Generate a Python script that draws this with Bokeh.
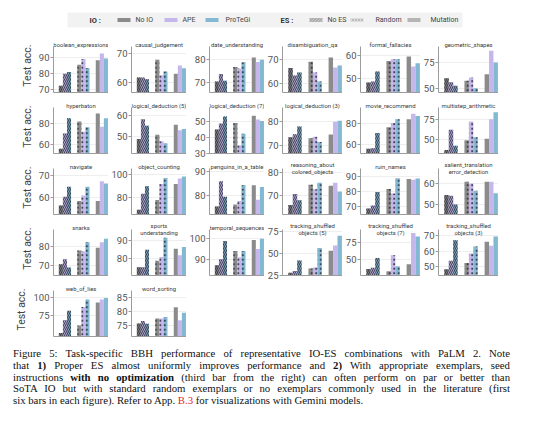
from bokeh.plotting import figure
from bokeh.models import (Range1d, FixedTicker, Label, BoxAnnotation, ColumnDataSource, Div, Spacer)
from bokeh.layouts import gridplot, column, row
from bokeh.embed import file_html
from bokeh.resources import INLINE

# ---------------- data ----------------
TASKS = [
    "boolean_expressions", "causal_judgement", "date_understanding", "disambiguation_qa",
    "formal_fallacies", "geometric_shapes",
    "hyperbaton", "logical_deduction (5)", "logical_deduction (7)", "logical_deduction (3)",
    "movie_recommend", "multistep_arithmetic",
    "navigate", "object_counting", "penguins_in_a_table", "reasoning_about\ncolored_objects",
    "ruin_names", "salient_translation\nerror_detection",
    "snarks", "sports\nunderstanding", "temporal_sequences", "tracking_shuffled\nobjects (5)",
    "tracking_shuffled\nobjects (7)", "tracking_shuffled\nobjects (3)",
    "web_of_lies", "word_sorting",
]
Y_TICKS = [
    [70, 80, 90], [60, 70], [70, 80], [60, 70], [50, 60], [50, 75],
    [60, 80], [50, 60], [30, 40, 50], [70, 80], [60, 80], [50, 75],
    [60, 70], [80, 100], [80, 90], [70, 80], [70, 80, 90], [50, 60],
    [70, 80], [80, 90], [90, 100], [25, 50, 75], [50, 75], [50, 60, 70],
    [75, 100], [75, 80, 85],
]
Y_LIMITS = [
    (68.3, 96.9), (56.4, 72.3), (65.6, 85.9), (56.1, 75.3), (44.1, 63.9), (46.5, 90.2),
    (51.7, 95.0), (42.2, 63.5), (30.0, 58.6), (66.6, 85.9), (51.7, 95.0), (31.6, 91.0),
    (52.4, 73.3), (64.4, 105.8), (72.1, 91.4), (61.8, 81.5), (64.5, 95.3), (45.3, 67.0),
    (64.4, 89.5), (71.0, 96.0), (82.0, 104.6), (25.0, 77.0), (26.8, 93.0), (44.5, 73.9),
    (47.3, 109.0), (71.0, 87.5),
]
# each entry: [No IO, APE, ProTeGi]
NO_ES = [
    [72.5, 80.0, 81.0], [61.6, 61.6, 61.0], [70.4, 73.8, 70.8], [66.3, 63.2, 64.4],
    [48.4, 48.8, 53.1], [60.1, 56.3, 52.9],
    [56.1, 70.5, 84.8], [48.9, 58.1, 55.1], [44.9, 48.7, 53.0], [73.4, 74.7, 77.9],
    [56.1, 56.6, 70.9], [36.0, 62.3, 41.6],
    [56.5, 60.5, 65.0], [68.6, 83.0, 89.9], [75.5, 86.0, 79.5], [65.9, 70.6, 67.9],
    [68.6, 70.6, 79.6], [54.5, 54.1, 50.0],
    [70.5, 73.2, 68.8], [75.5, 75.5, 85.0], [87.0, 90.0, 99.0], [28.0, 30.0, 42.0],
    [36.0, 38.0, 52.0], [48.5, 54.0, 67.0],
    [52.0, 69.0, 82.0], [75.7, 76.6, 75.6],
]
RANDOM = [
    [85.6, 89.1, 83.5], [67.7, 62.4, 63.7], [76.8, 76.2, 78.9], [68.9, 64.4, 60.7],
    [57.7, 58.4, 58.4], [57.6, 60.8, 50.6],
    [81.8, 72.1, 76.5], [50.9, 47.9, 47.0], [49.0, 35.1, 42.3], [73.0, 73.6, 71.4],
    [76.4, 80.4, 84.0], [48.8, 72.9, 52.5],
    [58.5, 61.0, 65.0], [77.4, 91.8, 97.3], [76.3, 77.8, 84.4], [74.5, 72.6, 75.4],
    [81.6, 78.5, 88.8], [60.7, 59.9, 56.5],
    [78.0, 77.5, 82.5], [79.0, 81.0, 91.5], [94.0, 91.0, 94.0], [33.0, 34.0, 56.0],
    [33.0, 56.0, 40.0], [52.5, 58.5, 63.0],
    [62.0, 87.0, 97.0], [77.5, 77.5, 78.0],
]
MUTATION = [
    [88.3, 92.5, 89.4], [62.9, 65.7, 64.8], [81.1, 79.1, 80.0], [70.7, 66.5, 67.4],
    [59.6, 55.3, 56.7], [63.9, 86.2, 75.0],
    [89.3, 76.8, 84.8], [55.5, 53.0, 53.6], [53.4, 51.1, 50.2], [74.6, 79.9, 80.3],
    [84.0, 89.1, 87.0], [50.7, 75.9, 84.9],
    [58.5, 67.5, 66.5], [91.8, 96.8, 98.7], [84.4, 78.3, 83.6], [74.1, 75.4, 71.6],
    [88.2, 87.8, 88.6], [60.7, 60.7, 55.3],
    [79.5, 82.5, 84.5], [85.5, 82.0, 86.5], [99.5, 95.0, 100.0], [53.0, 59.0, 70.0],
    [43.0, 88.0, 83.0], [66.0, 63.5, 69.5],
    [93.0, 97.0, 99.0], [81.5, 76.8, 79.5],
]
IO_LABELS = ["No IO", "APE", "ProTeGi"]
ES_LABELS = ["No ES", "Random", "Mutation"]
CAPTION_LINES = [
    "Figure 5: Task-specific BBH performance of representative IO-ES combinations with PaLM 2. Note",
    "that <b>1)</b> Proper ES almost uniformly improves performance and <b>2)</b> With appropriate exemplars, seed",
    "instructions <b>with no optimization</b> (third bar from the right) can often perform on par or better than",
    "SoTA IO but with standard random exemplars or no exemplars commonly used in the literature (first",
    'six bars in each figure). Refer to App. <span style="color:#e3262a">B.3</span> for visualizations with Gemini models.',
]

# ---------------- style ----------------
IO_COLORS = ["#8b8b8b", "#c5b7ec", "#82b8d1"]
ES_HATCH = ["left_diagonal_line", "dot", " "]
ES_HATCH_SCALE = [4.0, 4.5, 1.0]
ES_HATCH_WEIGHT = [1.1, 1.6, 1.0]
HATCH_COLOR = "#2e2e3c"
AXIS_COLOR = "#9c9c9c"
FONT = "Roboto"
BAR_W = 0.22
PANEL_H = 61
TITLE_PAD = 8      # px of headroom above the data area for panel titles
DATA_H = 46        # px of the data area
BOTTOM_B = 7
FRAME_W = 63
LEFT_B = 15
FIRST_LEFT_B = 33
GRID_INDENT = 12


def make_panel(k, col):
    lo, hi = Y_LIMITS[k]
    top = hi + (hi - lo) * TITLE_PAD / DATA_H
    first = col == 0
    lb = FIRST_LEFT_B if first else LEFT_B
    p = figure(width=lb + FRAME_W, height=PANEL_H,
               x_range=Range1d(-0.62, 2.36), y_range=Range1d(lo, top),
               output_backend="svg", toolbar_location=None,
               min_border_left=lb, min_border_right=0,
               min_border_top=0, min_border_bottom=BOTTOM_B)
    p.outline_line_color = None
    p.background_fill_color = "white"
    p.border_fill_color = "white"

    for g, vals in enumerate((NO_ES[k], RANDOM[k], MUTATION[k])):
        src = ColumnDataSource(dict(
            x=[g + (i - 1) * BAR_W for i in range(3)],
            top=list(vals),
            color=IO_COLORS,
        ))
        p.vbar(x="x", top="top", bottom=lo, width=BAR_W, source=src,
               fill_color="color", line_color=None,
               hatch_pattern=ES_HATCH[g], hatch_color=HATCH_COLOR, hatch_alpha=0.85,
               hatch_scale=ES_HATCH_SCALE[g], hatch_weight=ES_HATCH_WEIGHT[g])

    # x axis: spine only
    p.xaxis.ticker = FixedTicker(ticks=[])
    p.xaxis.major_tick_line_color = None
    p.xaxis.minor_tick_line_color = None
    p.xaxis.major_label_text_font_size = "0px"
    p.xaxis.major_label_standoff = 0
    p.xaxis.axis_line_color = AXIS_COLOR
    p.xgrid.visible = False

    # y axis
    p.yaxis.bounds = (lo, hi)
    p.yaxis.ticker = FixedTicker(ticks=Y_TICKS[k])
    p.yaxis.minor_tick_line_color = None
    p.yaxis.major_tick_out = 3
    p.yaxis.major_tick_in = 0
    p.yaxis.major_tick_line_color = AXIS_COLOR
    p.yaxis.axis_line_color = AXIS_COLOR
    p.yaxis.major_label_standoff = 1
    p.yaxis.major_label_text_font = FONT
    p.yaxis.major_label_text_font_size = "9.5px"
    p.yaxis.major_label_text_color = "#555555"
    p.ygrid.ticker = FixedTicker(ticks=Y_TICKS[k])
    p.ygrid.grid_line_color = "#eeeeee"
    if first:
        p.yaxis.axis_label = "Test acc."
        p.yaxis.axis_label_text_font = FONT
        p.yaxis.axis_label_text_font_size = "10.5px"
        p.yaxis.axis_label_text_font_style = "normal"
        p.yaxis.axis_label_text_color = "#444444"
        p.yaxis.axis_label_standoff = 2

    lines = TASKS[k].split("\n")
    offs = [2] if len(lines) == 1 else [4, -3.5]
    for line, off in zip(lines, offs):
        p.add_layout(Label(x=0.87, y=hi, text=line, text_align="center",
                           text_baseline="middle", y_offset=off,
                           text_font=FONT, text_font_size="5.9px",
                           text_color="#3a3a3a"))
    return p


# ---------------- legend strip ----------------
LEG_H = 38
lg = figure(width=524, height=LEG_H, x_range=Range1d(0, 524), y_range=Range1d(0, LEG_H),
            output_backend="svg", toolbar_location=None, min_border=0,
            x_axis_type=None, y_axis_type=None)
lg.grid.visible = False
lg.outline_line_color = None
lg.add_layout(BoxAnnotation(left=67, right=462, bottom=11, top=26,
                            fill_color="#f2f2f2", fill_alpha=1.0, line_color=None))
CY = 18.5


def legend_group(title, title_x, labels, swatch_x, text_x, styles):
    lg.add_layout(Label(x=title_x, y=CY, text=title, text_baseline="middle", text_align="left",
                        text_font=FONT, text_font_size="7.5px", text_font_style="bold",
                        text_color="#333333"))
    for lab, sx, tx, st in zip(labels, swatch_x, text_x, styles):
        lg.add_layout(BoxAnnotation(left=sx, right=sx + 13, bottom=CY - 2, top=CY + 2,
                                    line_color=None, fill_alpha=1.0, **st))
        lg.add_layout(Label(x=tx, y=CY, text=lab, text_baseline="middle", text_align="left",
                            text_font=FONT, text_font_size="7px", text_color="#444444"))


legend_group("IO :", 89, IO_LABELS, [117, 164, 205], [135, 182, 225],
             [dict(fill_color=c) for c in IO_COLORS])
legend_group("ES :", 280, ES_LABELS, [309, 350, 407], [327, 375, 430],
             [dict(fill_color="#dedede", hatch_pattern=ES_HATCH[0], hatch_color="#8a8a8a",
                   hatch_scale=3, hatch_weight=0.8),
              dict(fill_color="#dedede", hatch_pattern=ES_HATCH[1], hatch_color="#8a8a8a",
                   hatch_scale=3, hatch_weight=1.0),
              dict(fill_color="#b5b5b5")])

# ---------------- grid ----------------
rows = []
for r in range(5):
    cells = []
    for c in range(6):
        k = r * 6 + c
        cells.append(make_panel(k, c) if k < len(TASKS) else None)
    rows.append(cells)
grid = gridplot(rows, toolbar_location=None)

# ---------------- caption ----------------
html_lines = []
for i, line in enumerate(CAPTION_LINES):
    last = "left" if i == len(CAPTION_LINES) - 1 else "justify"
    html_lines.append(f'<div style="text-align:justify;text-align-last:{last}">{line}</div>')
caption = Div(text=(
    '<div style="width:497px;margin-left:8px;padding-top:0px;font-family:\'Liberation Serif\',serif;'
    'font-size:10.75px;line-height:11.75px;color:#111111">' + "".join(html_lines) + "</div>"),
    width=524, height=66)

layout = column(lg, row(Spacer(width=GRID_INDENT, height=10), grid), caption)
open("out.html", "w").write(file_html(layout, INLINE))
